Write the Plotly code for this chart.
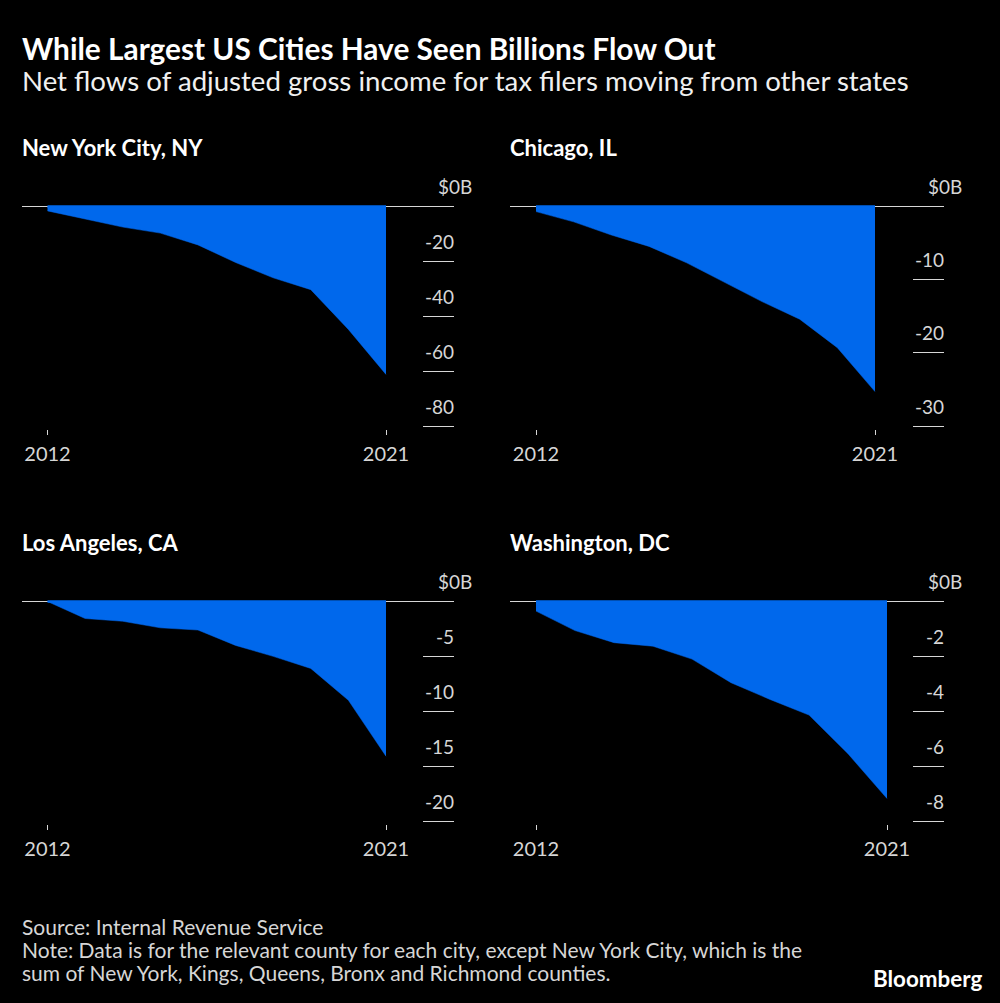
import plotly.graph_objects as go

# values, in $B
years = [2012, 2013, 2014, 2015, 2016, 2017, 2018, 2019, 2020, 2021]
nyc = [-1.6, -4.6, -7.5, -9.7, -14.0, -20.4, -26.0, -30.3, -44.8, -61.2]
chicago = [-0.7, -2.1, -3.9, -5.45, -7.7, -10.4, -13.0, -15.4, -19.3, -25.3]
la = [0, -1.55, -1.8, -2.4, -2.6, -4.0, -5.0, -6.1, -9.0, -14.1]
dc = [-0.35, -1.06, -1.5, -1.63, -2.1, -2.96, -3.57, -4.14, -5.55, -7.18]

nyc_ticks = [-20, -40, -60, -80]
chicago_ticks = [-10, -20, -30]
la_ticks = [-5, -10, -15, -20]
dc_ticks = [-2, -4, -6, -8]

W, H = 1000, 1003
FONT = 'Lato'
BLUE = '#0068ec'
GREY = '#d6d6d6'
WHITE = '#ffffff'

# name, values, ticks, left px, right px, zero px, bottom px, x of 2012 px, x of 2021 px
panels = [
    ('New York City, NY', nyc, nyc_ticks, 22, 454, 206.5, 426, 47.5, 386),
    ('Chicago, IL', chicago, chicago_ticks, 510, 944, 206.5, 426, 536, 875),
    ('Los Angeles, CA', la, la_ticks, 22, 454, 601.5, 821, 47.5, 386),
    ('Washington, DC', dc, dc_ticks, 510, 944, 601.5, 821, 536, 887),
]

def px(x):
    return x / W

def py(y):
    return 1 - y / H

def text(x, y, s, size, color=GREY, bold=False, anchor='left'):
    # annotations carry about 2px of padding, take it back out
    x = x - 2 if anchor == 'left' else x + 2
    fig.add_annotation(xref='paper', yref='paper', x=px(x), y=py(y), text='<b>%s</b>' % s if bold else s,
                       showarrow=False, xanchor=anchor, yanchor='middle', align='left',
                       font=dict(family=FONT, size=size, color=color))

fig = go.Figure()

for i, (name, vals, ticks, left, right, zero, bottom, x0, x1) in enumerate(panels):
    n = str(i + 1) if i else ''
    # leave a few px above zero and below the last tick, plotly drops ticks right at the edge
    per_px = -ticks[-1] / (bottom - zero)
    top = zero - 4
    low = bottom + 3
    per_year = (x1 - x0) / (years[-1] - years[0])

    fig.add_trace(go.Scatter(x=years, y=vals, mode='lines', fill='tozeroy', fillcolor=BLUE,
                             line=dict(color=BLUE, width=0.5), xaxis='x' + n, yaxis='y' + n,
                             showlegend=False, hoverinfo='skip'))
    fig.add_trace(go.Scatter(x=[years[0], years[-1]], y=[0, 0], mode='lines', line=dict(color=BLUE, width=2.5),
                             xaxis='x' + n, yaxis='y' + n, showlegend=False, hoverinfo='skip'))

    fig.update_layout({
        'xaxis' + n: dict(domain=[px(left), px(right)],
                          range=[years[0] - (x0 - left) / per_year, years[-1] + (right - x1) / per_year],
                          anchor='y' + n, tickvals=[years[0], years[-1]], ticks='outside', ticklen=5, tickwidth=1,
                          tickcolor=GREY, showgrid=False, zeroline=False, showline=False, fixedrange=True,
                          ticklabelstandoff=2, tickfont=dict(family=FONT, size=20, color=GREY)),
        'yaxis' + n: dict(domain=[py(low), py(top)], range=[ticks[-1] - 3 * per_px, 4 * per_px],
                          anchor='x' + n, side='right', tickvals=sorted(ticks + [0]), ticks='inside', ticklen=31, tickwidth=1.3,
                          tickcolor=GREY, showticklabels=False, showgrid=False, zeroline=True,
                          zerolinecolor=GREY, zerolinewidth=1.3, showline=False, fixedrange=True),
    })

    text(left, zero - 59, name, 22, WHITE, bold=True)
    # tick labels sit above their tick line, the $ and B hang off the numbers
    text(right - 16, zero - 20, '$0B', 19)
    for t in ticks:
        y = zero + (bottom - zero) * t / ticks[-1]
        text(right, y - 20, str(t), 19, anchor='right')

text(22, 48, 'While Largest US Cities Have Seen Billions Flow Out', 29.8, WHITE, bold=True)
text(22, 80, 'Net flows of adjusted gross income for tax filers moving from other states', 27.6, '#f0f0f0')
text(22, 926, 'Source: Internal Revenue Service', 21)
text(22, 949, 'Note: Data is for the relevant county for each city, except New York City, which is the', 21)
text(22, 972, 'sum of New York, Kings, Queens, Bronx and Richmond counties.', 21)
text(873, 978, 'Bloomberg', 22.4, WHITE, bold=True)

fig.update_layout(width=W, height=H, margin=dict(l=0, r=0, t=0, b=0), paper_bgcolor='black',
                  plot_bgcolor='black', showlegend=False)

fig.write_html('out.html', config=dict(displayModeBar=False),
               post_script="document.body.style.margin='0';document.body.style.background='#000';document.body.style.overflow='hidden';")
